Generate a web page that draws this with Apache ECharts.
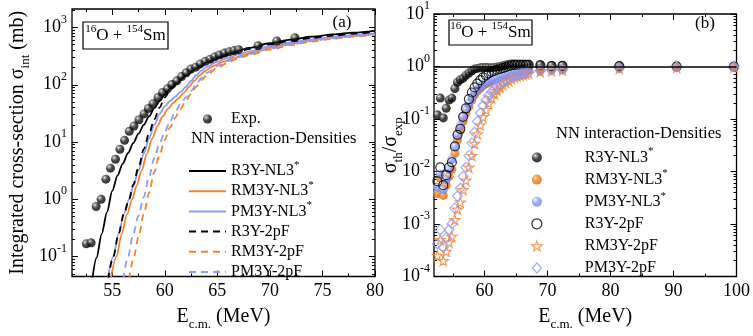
<!DOCTYPE html>
<html>
<head>
<meta charset="utf-8">
<script src="https://cdn.jsdelivr.net/npm/echarts@6/dist/echarts.min.js"></script>
<style>
  html, body { margin: 0; padding: 0; background: #fff; }
  #chart { width: 753px; height: 336px; }
</style>
</head>
<body>
<div id="chart"></div>
<script>
const FONT = 'Liberation Serif';
const ORANGE = '#f5822a';
const BLUE = '#8d9bf6';

// measured energies (MeV); the last three only fall inside panel (b)
const energies = [52.54, 52.99, 53.47, 53.94, 54.39, 54.83, 55.31, 55.73, 56.17, 56.62,
  57.07, 57.54, 58.02, 58.44, 58.88, 59.36, 59.78, 60.26, 60.67, 61.15,
  61.60, 62.04, 62.49, 62.94, 63.38, 63.86, 64.31, 64.76, 65.20, 65.68,
  66.13, 66.58, 67.02, 68.87, 70.65, 72.38, 81.4, 90.5, 99.6];

// panel (a): experimental cross-section (mb)
const expCross = [0.168, 0.174, 0.75, 1.0, 2.25, 3.5, 5.0, 7.5, 10.7, 15.4,
  19, 24.5, 31, 38.6, 46.8, 60, 73, 85, 101, 117,
  139, 162, 188, 203, 231, 256, 280, 307, 331, 357,
  376, 395, 410, 479, 580, 661];

// panel (a): calculated curves [E, sigma]
const r3yNl3 = [[53.1, 0.04], [53.5, 0.095], [54.0, 0.25], [54.5, 0.6], [55.0, 1.4], [55.5, 2.6],
  [56.0, 4.2], [56.5, 6.4], [57.0, 9.6], [57.5, 14], [58.0, 20], [58.5, 28], [59.0, 39],
  [59.5, 52], [60.0, 68], [60.5, 85], [61.0, 103], [62.0, 145], [63.0, 195], [64.0, 245],
  [65.0, 295], [66.0, 345], [67.0, 395], [68.0, 440], [70.0, 530], [72.0, 615], [74.0, 690],
  [76.0, 755], [78.0, 815], [80.0, 875]];
const rm3yNl3 = [[54.85, 0.04], [55.4, 0.1], [55.9, 0.25], [56.4, 0.55], [56.9, 1.0], [57.3, 1.7],
  [57.8, 3.2], [58.3, 6.3], [58.8, 11.5], [59.3, 19], [59.8, 28], [60.3, 38], [60.8, 48],
  [61.3, 58], [61.8, 72], [62.3, 92], [62.8, 117], [63.3, 145], [63.8, 172], [64.5, 208],
  [65.5, 250], [66.5, 292], [67.5, 333], [68.5, 372], [70.0, 440], [72.0, 525], [74.0, 600],
  [76.0, 665], [78.0, 725], [80.0, 780]];
const pm3yNl3 = [[54.55, 0.04], [55.1, 0.1], [55.6, 0.25], [56.1, 0.55], [56.6, 1.0], [57.0, 1.7],
  [57.5, 3.2], [58.0, 6.3], [58.5, 11.5], [59.0, 20], [59.5, 31], [60.0, 42], [60.5, 52],
  [61.0, 62], [61.5, 75], [62.0, 92], [62.5, 117], [63.0, 148], [63.5, 178], [64.0, 205],
  [65.0, 252], [66.0, 295], [67.0, 338], [68.0, 380], [70.0, 470], [72.0, 550], [74.0, 620],
  [76.0, 680], [78.0, 735], [80.0, 790]];
const r3y2pF = [[54.6, 0.04], [55.1, 0.1], [55.6, 0.25], [56.1, 0.55], [56.6, 1.0], [57.0, 1.8],
  [57.5, 3.6], [58.0, 7.5], [58.5, 14], [59.0, 25], [59.5, 40], [60.0, 60], [60.5, 80],
  [61.0, 100], [62.0, 143], [63.0, 188], [64.0, 237], [65.0, 285], [66.0, 330], [67.0, 375],
  [68.0, 420], [70.0, 505], [72.0, 585], [74.0, 655], [76.0, 720], [78.0, 780], [80.0, 840]];
const rm3y2pF = [[56.6, 0.04], [57.0, 0.09], [57.5, 0.22], [58.0, 0.55], [58.5, 1.3], [59.0, 3.0],
  [59.5, 6.0], [60.0, 11], [60.5, 18], [61.0, 27], [61.5, 38], [62.0, 52], [62.5, 70],
  [63.0, 93], [63.5, 120], [64.0, 148], [65.0, 198], [66.0, 243], [67.0, 288], [68.0, 330],
  [70.0, 410], [72.0, 490], [74.0, 565], [76.0, 635], [78.0, 695], [80.0, 755]];
const pm3y2pF = [[56.05, 0.04], [56.5, 0.1], [57.0, 0.25], [57.5, 0.52], [58.0, 1.1], [58.5, 2.5],
  [59.0, 5.3], [59.5, 9.5], [60.0, 15], [60.5, 23], [61.0, 34], [61.5, 46], [62.0, 60],
  [62.5, 78], [63.0, 102], [63.5, 132], [64.0, 162], [65.0, 213], [66.0, 258], [67.0, 300],
  [68.0, 343], [70.0, 425], [72.0, 505], [74.0, 580], [76.0, 645], [78.0, 705], [80.0, 765]];

// panel (b): sigma_th / sigma_exp at each energy
const ratioR3yNl3 = [0.12, 0.25, 0.105, 0.16, 0.23, 0.25, 0.38, 0.50, 0.56, 0.60,
  0.68, 0.75, 0.83, 0.90, 0.92, 0.95, 0.96, 0.96, 0.95, 0.95,
  0.96, 0.98, 1.00, 1.03, 1.07, 1.10, 1.12, 1.12, 1.10, 1.10,
  1.10, 1.10, 1.10, 1.08, 1.05, 1.05, 1.03, 1.02, 1.00];
const ratioRm3yNl3 = [0.0038, 0.0075, 0.0035, 0.0055, 0.008, 0.011, 0.022, 0.04, 0.06, 0.09,
  0.13, 0.17, 0.23, 0.29, 0.34, 0.39, 0.43, 0.47, 0.50, 0.53,
  0.56, 0.59, 0.62, 0.65, 0.68, 0.71, 0.74, 0.76, 0.78, 0.80,
  0.81, 0.82, 0.84, 0.85, 0.86, 0.87, 0.93, 0.97, 0.98];
const ratioPm3yNl3 = [0.005, 0.009, 0.0045, 0.007, 0.011, 0.017, 0.03, 0.05, 0.075, 0.11,
  0.15, 0.20, 0.26, 0.32, 0.37, 0.42, 0.46, 0.50, 0.53, 0.56,
  0.59, 0.62, 0.65, 0.68, 0.71, 0.74, 0.77, 0.79, 0.81, 0.83,
  0.84, 0.85, 0.87, 0.88, 0.89, 0.90, 0.95, 0.99, 0.99];
const ratioR3y2pF = [0.0065, 0.012, 0.0055, 0.0085, 0.012, 0.015, 0.03, 0.05, 0.065, 0.11,
  0.16, 0.24, 0.32, 0.40, 0.47, 0.55, 0.62, 0.68, 0.74, 0.79,
  0.83, 0.87, 0.90, 0.93, 0.97, 1.02, 1.05, 1.07, 1.07, 1.07,
  1.07, 1.07, 1.08, 1.05, 1.02, 1.03, 1.02, 1.00, 1.00];
const ratioRm3y2pF = [0.00025, 0.0005, 0.0002, 0.0003, 0.00045, 0.00058, 0.0012, 0.0019, 0.0026, 0.0045,
  0.0068, 0.012, 0.02, 0.034, 0.052, 0.077, 0.11, 0.15, 0.20, 0.25,
  0.30, 0.35, 0.40, 0.45, 0.50, 0.54, 0.58, 0.62, 0.65, 0.68,
  0.70, 0.72, 0.74, 0.80, 0.83, 0.85, 0.92, 0.96, 0.97];
const ratioPm3y2pF = [0.00042, 0.00078, 0.00036, 0.00055, 0.00078, 0.001, 0.002, 0.0034, 0.0048, 0.008,
  0.012, 0.02, 0.035, 0.056, 0.09, 0.13, 0.18, 0.23, 0.28, 0.33,
  0.38, 0.43, 0.48, 0.52, 0.56, 0.60, 0.64, 0.67, 0.70, 0.72,
  0.74, 0.76, 0.78, 0.83, 0.86, 0.88, 0.94, 0.98, 0.98];

// tick positions
const xMajorA = [55, 60, 65, 70, 75, 80];
const xMinorA = [52.5, 57.5, 62.5, 67.5, 72.5, 77.5];
const yMajorA = [0.1, 1, 10, 100, 1000];
const xMajorB = [60, 70, 80, 90, 100];
const xMinorB = [55, 65, 75, 85, 95];
const yMajorB = [1e-4, 1e-3, 1e-2, 1e-1, 1, 10];

const logMinors = (lo, hi) => {
  const out = [];
  for (let k = -5; k <= 4; k++) {
    for (let m = 2; m <= 9; m++) {
      const v = m * Math.pow(10, k);
      if (v > lo && v < hi) out.push(v);
    }
  }
  return out;
};

const pair = (xs, ys) => ys.map((y, i) => [xs[i], y]);

const sphere = (stops) => new echarts.graphic.RadialGradient(0.35, 0.32, 0.75,
  stops.map((c, i) => ({ offset: [0, 0.18, 0.5, 1][i], color: c })));

const STAR = 'path://M50,0 L61,35 L98,35 L68,57 L79,91 L50,70 L21,91 L32,57 L2,35 L39,35 Z';
const DIAMOND = 'path://M50,0 L95,50 L50,100 L5,50 Z';

const chart = echarts.init(document.getElementById('chart'));

function axis(type, gi, min, max, pos, ticks, len, label) {
  const ax = {
    type: type, gridIndex: gi, min: min, max: max, position: pos,
    axisLine: { show: false },
    splitLine: { show: false },
    axisTick: { show: true, inside: true, length: len, customValues: ticks,
      lineStyle: { color: '#000', width: 1 } },
    axisLabel: { show: false },
  };
  if (type === 'log') ax.logBase = 10;
  if (label) Object.assign(ax, label);
  return ax;
}

const supRich = {
  s: { fontSize: 12, fontFamily: FONT, color: '#000', verticalAlign: 'top', height: 6 }
};
const logLabel = (customValues, margin) => ({
  axisLabel: {
    show: true, customValues: customValues, margin: margin,
    fontSize: 18, fontFamily: FONT, color: '#000', lineHeight: 22,
    formatter: (v) => '10{s|' + Math.round(Math.log10(v)) + '}',
    rich: supRich,
  }
});
const linLabel = (customValues) => ({
  axisLabel: {
    show: true, customValues: customValues, margin: 6,
    fontSize: 18, fontFamily: FONT, color: '#000',
  }
});
const nameStyle = {
  fontSize: 20, fontFamily: FONT, color: '#000', lineHeight: 24,
  rich: { sub: { fontSize: 13, fontFamily: FONT, color: '#000', verticalAlign: 'bottom', height: 8 } }
};
const axisName = (name, gap) => ({
  name: name, nameLocation: 'middle', nameGap: gap, nameMoveOverlap: false, nameTextStyle: nameStyle,
});

const yMinA = 0.045, yMaxA = 2100, yMinB = 1e-4, yMaxB = 10;
const EC = 'E{sub|c.m.} (MeV)';

const xAxes = [
  axis('value', 0, 51.17, 80, 'bottom', xMajorA, 6, Object.assign(linLabel(xMajorA), axisName(EC, 28))),
  axis('value', 0, 51.17, 80, 'bottom', xMinorA, 3),
  axis('value', 0, 51.17, 80, 'top', xMajorA, 6),
  axis('value', 0, 51.17, 80, 'top', xMinorA, 3),
  axis('value', 1, 52, 100, 'bottom', xMajorB, 6, Object.assign(linLabel(xMajorB), axisName(EC, 28))),
  axis('value', 1, 52, 100, 'bottom', xMinorB, 3),
  axis('value', 1, 52, 100, 'top', xMajorB, 6),
  axis('value', 1, 52, 100, 'top', xMinorB, 3),
];
const yAxes = [
  axis('log', 0, yMinA, yMaxA, 'left', yMajorA, 6, Object.assign(logLabel(yMajorA, 5),
    axisName('Integrated cross-section σ{sub|int} (mb)', 42))),
  axis('log', 0, yMinA, yMaxA, 'left', logMinors(yMinA, yMaxA), 3),
  axis('log', 0, yMinA, yMaxA, 'right', yMajorA, 6),
  axis('log', 0, yMinA, yMaxA, 'right', logMinors(yMinA, yMaxA), 3),
  axis('log', 1, yMinB, yMaxB, 'left', yMajorB, 6, Object.assign(logLabel(yMajorB, 4),
    axisName('σ{sub|th}/σ{sub|exp}', 31))),
  axis('log', 1, yMinB, yMaxB, 'left', logMinors(yMinB, yMaxB), 3),
  axis('log', 1, yMinB, yMaxB, 'right', yMajorB, 6),
  axis('log', 1, yMinB, yMaxB, 'right', logMinors(yMinB, yMaxB), 3),
];

const lineSeries = (name, data, color, dashed) => ({
  name: name, type: 'line', xAxisIndex: 0, yAxisIndex: 0, data: data,
  symbol: 'none', smooth: 0.3, smoothMonotone: 'x',
  lineStyle: { color: color, width: 1.8, type: dashed ? [7, 5] : 'solid' },
  itemStyle: { color: color },
});

const ratioSeries = (name, data, symbol, size, style) => ({
  name: name, type: 'scatter', xAxisIndex: 4, yAxisIndex: 4,
  data: pair(energies, data), symbol: symbol, symbolSize: size, itemStyle: style,
});

const blackBall = sphere(['#ffffff', '#808080', '#161616', '#000000']);
const orangeBall = sphere(['#fff0e0', '#f8a55c', '#f27a16', '#dc640a']);
const blueBall = sphere(['#ffffff', '#c0c8fb', '#8a98f4', '#6d7de8']);
const openStyle = (c) => ({ color: 'rgba(255,255,255,0)', borderColor: c, borderWidth: 1.2 });

// every legend row gets a superscript slot so all rows share one height
const fmtName = (n) => {
  n = n.replace(/^b:/, '');
  return n.endsWith('*') ? n.slice(0, -1) + '{s|*}' : n + '{s| }';
};
const legendText = {
  fontSize: 16, fontFamily: FONT, color: '#000', lineHeight: 16,
  rich: { s: { fontSize: 11, fontFamily: FONT, color: '#000', verticalAlign: 'top', height: 4 } }
};

const aNames = ['R3Y-NL3*', 'RM3Y-NL3*', 'PM3Y-NL3*', 'R3Y-2pF', 'RM3Y-2pF', 'PM3Y-2pF'];
const bNames = aNames.map((n) => 'b:' + n);

const option = {
  animation: false,
  backgroundColor: '#fff',
  textStyle: { fontFamily: FONT },
  grid: [
    { left: 72, top: 9, width: 303, height: 280, show: true, borderColor: '#000', borderWidth: 1.3 },
    { left: 434, top: 10, width: 304, height: 279, show: true, borderColor: '#000', borderWidth: 1.3 },
  ],
  xAxis: xAxes,
  yAxis: yAxes,
  legend: [
    { data: ['Exp.'], left: 203, top: 107.5, padding: 0, orient: 'vertical', selectedMode: false,
      itemWidth: 37, itemHeight: 9, textStyle: legendText, formatter: fmtName },
    { data: aNames, left: 188, top: 159.5, padding: 0, orient: 'vertical', selectedMode: false,
      itemWidth: 37, itemHeight: 14, itemGap: 0.7, itemStyle: { opacity: 0 },
      textStyle: legendText, formatter: fmtName },
    { data: bNames.map((n, i) => i >= 3 ? { name: n, itemStyle: { borderWidth: 1.2 } } : n),
      left: 531, top: 146, padding: 0, orient: 'vertical', selectedMode: false,
      itemWidth: 86, itemHeight: 10, itemGap: 2.6, textStyle: legendText, formatter: fmtName },
  ],
  graphic: [
    { type: 'rect', shape: { x: 83, y: 22, width: 85, height: 27 },
      style: { fill: '#fff', stroke: '#000', lineWidth: 1.2 }, z: 10 },
    { type: 'text', x: 125.5, y: 36, z: 11,
      style: { text: '{s|16}O + {s|154}Sm', fontSize: 17, fontFamily: FONT, fill: '#000',
        align: 'center', verticalAlign: 'middle', lineHeight: 20,
        rich: { s: { fontSize: 11, fontFamily: FONT, fill: '#000', verticalAlign: 'top', height: 6 } } } },
    { type: 'rect', shape: { x: 449, y: 20, width: 83, height: 25 },
      style: { fill: '#fff', stroke: '#000', lineWidth: 1.2 }, z: 10 },
    { type: 'text', x: 490.5, y: 33, z: 11,
      style: { text: '{s|16}O + {s|154}Sm', fontSize: 17, fontFamily: FONT, fill: '#000',
        align: 'center', verticalAlign: 'middle', lineHeight: 20,
        rich: { s: { fontSize: 11, fontFamily: FONT, fill: '#000', verticalAlign: 'top', height: 6 } } } },
    { type: 'text', x: 342, y: 23, style: { text: '(a)', fontSize: 17, fontFamily: FONT, fill: '#000',
      align: 'center', verticalAlign: 'middle' } },
    { type: 'text', x: 705, y: 24, style: { text: '(b)', fontSize: 17, fontFamily: FONT, fill: '#000',
      align: 'center', verticalAlign: 'middle' } },
    { type: 'text', x: 191, y: 139, style: { text: 'NN interaction-Densities', fontSize: 16.5,
      fontFamily: FONT, fill: '#000', align: 'left', verticalAlign: 'middle' } },
    { type: 'text', x: 556, y: 134, style: { text: 'NN interaction-Densities', fontSize: 16.5,
      fontFamily: FONT, fill: '#000', align: 'left', verticalAlign: 'middle' } },
  ],
  series: [
    lineSeries('R3Y-NL3*', r3yNl3, '#000', false),
    lineSeries('RM3Y-NL3*', rm3yNl3, ORANGE, false),
    lineSeries('PM3Y-NL3*', pm3yNl3, BLUE, false),
    lineSeries('R3Y-2pF', r3y2pF, '#000', true),
    lineSeries('RM3Y-2pF', rm3y2pF, ORANGE, true),
    lineSeries('PM3Y-2pF', pm3y2pF, BLUE, true),
    {
      name: 'Exp.', type: 'scatter', xAxisIndex: 0, yAxisIndex: 0,
      data: pair(energies, expCross), symbol: 'circle', symbolSize: 9,
      itemStyle: { color: blackBall }, z: 5,
    },
    Object.assign(ratioSeries('b:R3Y-NL3*', ratioR3yNl3, 'circle', 9, { color: blackBall }), {
      markLine: {
        silent: true, symbol: ['none', 'none'], label: { show: false },
        lineStyle: { color: '#000', width: 1.5, type: 'solid' },
        data: [{ yAxis: 1 }],
      }
    }),
    ratioSeries('b:RM3Y-NL3*', ratioRm3yNl3, 'circle', 9, { color: orangeBall }),
    ratioSeries('b:PM3Y-NL3*', ratioPm3yNl3, 'circle', 9, { color: blueBall }),
    ratioSeries('b:R3Y-2pF', ratioR3y2pF, 'circle', 9, openStyle('#000')),
    ratioSeries('b:RM3Y-2pF', ratioRm3y2pF, STAR, 10, openStyle(ORANGE)),
    ratioSeries('b:PM3Y-2pF', ratioPm3y2pF, DIAMOND, 10, openStyle(BLUE)),
  ],
};

chart.setOption(option);
</script>
</body>
</html>
